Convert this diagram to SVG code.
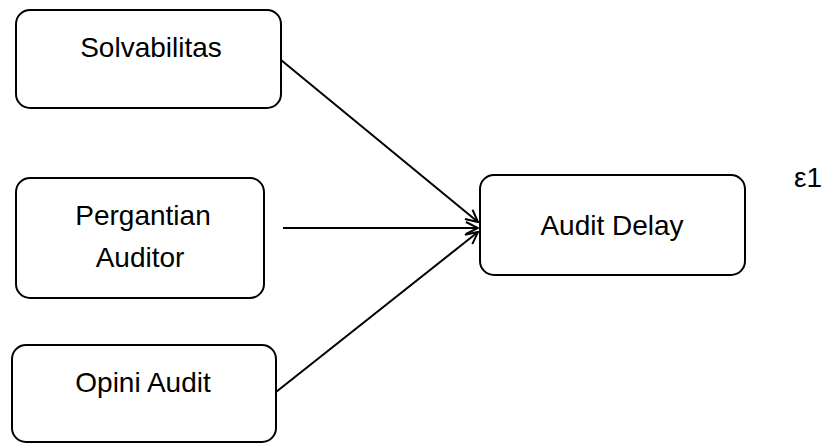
<svg xmlns="http://www.w3.org/2000/svg" width="824" height="444" viewBox="0 0 824 444">
<style>
.box{fill:#fff;stroke:#000;stroke-width:2}
.t{font-family:"Liberation Sans",Arial,sans-serif;font-size:28px;fill:#000;text-anchor:middle}
.c{stroke:#000;stroke-width:2;fill:none;marker-end:url(#arr)}
</style>
<defs>
<marker id="arr" viewBox="0 0 14 14" markerWidth="14" markerHeight="14" refX="13" refY="7" orient="auto" markerUnits="userSpaceOnUse">
<path d="M1,1 L13,7 L1,13" fill="none" stroke="#000" stroke-width="2"/>
</marker>
</defs>
<rect width="824" height="444" fill="#fff"/>
<g id="solvabilitas">
<rect class="box" x="16" y="10" width="265" height="98" rx="14"/>
<text class="t" x="151" y="57">Solvabilitas</text>
</g>
<g id="pergantian-auditor">
<rect class="box" x="16" y="178" width="248" height="120" rx="14"/>
<text class="t" x="143" y="225">Pergantian</text>
<text class="t" x="140" y="267">Auditor</text>
</g>
<g id="opini-audit">
<rect class="box" x="12" y="345" width="264" height="97" rx="14"/>
<text class="t" x="143" y="392">Opini Audit</text>
</g>
<g id="audit-delay">
<rect class="box" x="480" y="175" width="265" height="100" rx="14"/>
<text class="t" x="612" y="235">Audit Delay</text>
</g>
<g id="epsilon">
<text class="t" x="808" y="187">ε1</text>
</g>
<g id="connectors">
<line class="c" x1="281" y1="60" x2="478" y2="222"/>
<line class="c" x1="283" y1="228" x2="478" y2="228"/>
<line class="c" x1="276" y1="392" x2="478" y2="232"/>
</g>
</svg>
